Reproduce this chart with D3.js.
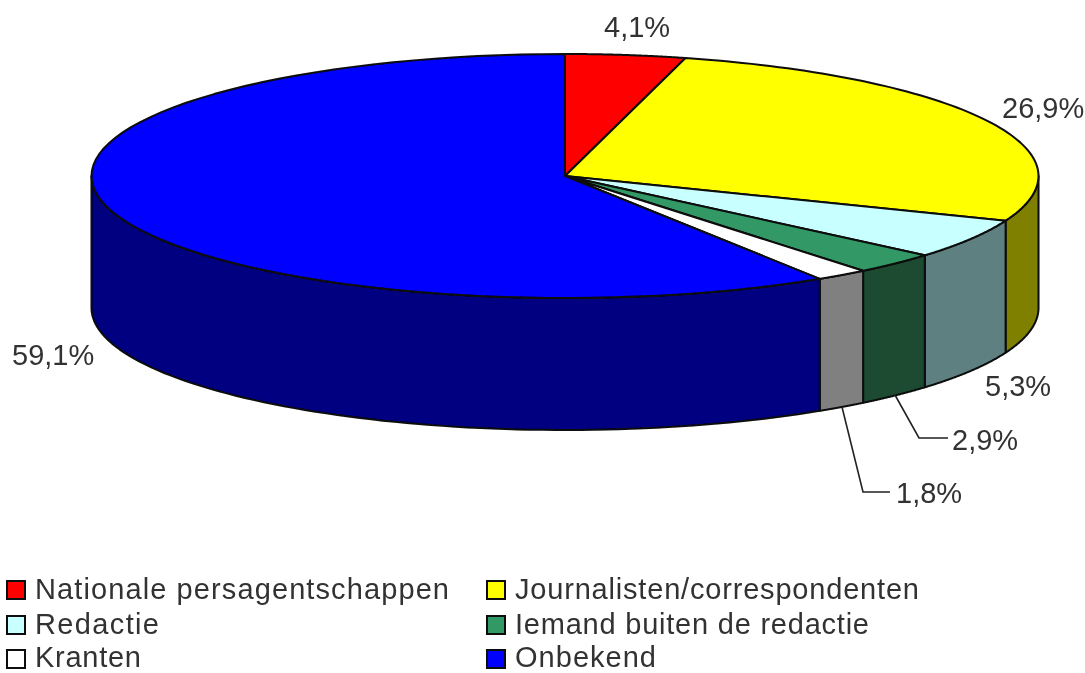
<!DOCTYPE html>
<html><head><meta charset="utf-8">
<script src="https://cdnjs.cloudflare.com/ajax/libs/d3/7.8.5/d3.min.js"></script>
<style>html,body{margin:0;padding:0;background:#fff;overflow:hidden}svg{display:block}
text{font-family:"Liberation Sans",Arial,sans-serif;font-size:29px;fill:#333}</style>
</head><body><svg id="c" width="1085" height="673"></svg>
<script>
const categories=["Nationale persagentschappen","Journalisten/correspondenten","Redactie","Iemand buiten de redactie","Kranten","Onbekend"];
const values=[4.1,26.9,5.3,2.9,1.8,59.1];
const valueLabels=["4,1%","26,9%","5,3%","2,9%","1,8%","59,1%"];
const topColors=["#ff0000","#ffff00","#c8ffff","#339966","#ffffff","#0000ff"];
const sideColors=["#800000","#808000","#5f8080","#1a4b33","#808080","#000080"];
const labelX=[604,1002,985,952,896,12];
const labelY=[37,118,396,450,503,365];
const leaderX=[[895,919,948],[842,863,890]];
const leaderY=[[395,438,438],[407,492,492]];
const leaderSlices=[3,4];
const legendColX=[7,487];
const legendRowY=[581,616,650];
const legendBaseY=[599,634,666.5];
const legendTextWidths=[414,404,124,354,106,141];

const cx=565,cy=176,rx=473.5,ry=122,depth=132;
const svg=d3.select("#c");
svg.append("defs").append("filter").attr("id","soft").attr("x","-5%").attr("y","-5%").attr("width","110%").attr("height","110%")
  .append("feGaussianBlur").attr("stdDeviation",0.5);
const g=svg.append("g").attr("filter","url(#soft)");

const sx=d3.scaleLinear().domain([-1,1]).range([cx-rx,cx+rx]);
const sy=d3.scaleLinear().domain([-1,1]).range([cy-ry,cy+ry]);
const slices=d3.pie().sort(null).startAngle(0).endAngle(2*Math.PI)(values);
const px=t=>sx(Math.sin(t)), py=t=>sy(-Math.cos(t));
const rim=(a,b)=>d3.range(0,81).map(i=>a+(b-a)*i/80);
const line=d3.line();
const edge=p=>p.attr("stroke","#0a0a0a").attr("stroke-width",2).attr("stroke-linejoin","round");

// side walls: only the part of each slice on the near half of the ellipse
slices.forEach((s,i)=>{
  const a=Math.max(s.startAngle,Math.PI/2), b=Math.min(s.endAngle,3*Math.PI/2);
  if(a>=b) return;
  const upper=rim(a,b).map(t=>[px(t),py(t)]);
  const lower=rim(a,b).reverse().map(t=>[px(t),py(t)+depth]);
  edge(g.append("path").attr("d",line(upper.concat(lower))+"Z").attr("fill",sideColors[i]));
});
// top faces
slices.forEach((s,i)=>{
  const pts=[[sx(0),sy(0)]].concat(rim(s.startAngle,s.endAngle).map(t=>[px(t),py(t)]));
  edge(g.append("path").attr("d",line(pts)+"Z").attr("fill",topColors[i]));
});
// leaders
leaderSlices.forEach((_,k)=>{
  g.append("path").attr("d",line(leaderX[k].map((x,j)=>[x,leaderY[k][j]])))
    .attr("fill","none").attr("stroke","#222").attr("stroke-width",1.6);
});
// value labels
g.selectAll("text.v").data(valueLabels).join("text").attr("class","v")
  .attr("x",(d,i)=>labelX[i]).attr("y",(d,i)=>labelY[i]).text(d=>d);
// legend
categories.forEach((c,i)=>{
  const col=i%2,row=Math.floor(i/2);
  g.append("rect").attr("x",legendColX[col]).attr("y",legendRowY[row]).attr("width",18).attr("height",18)
    .attr("fill",topColors[i]).attr("stroke","#111").attr("stroke-width",2);
  g.append("text").attr("x",legendColX[col]+28).attr("y",legendBaseY[row])
    .attr("textLength",legendTextWidths[i]).attr("lengthAdjust","spacing").text(c);
});
</script></body></html>
